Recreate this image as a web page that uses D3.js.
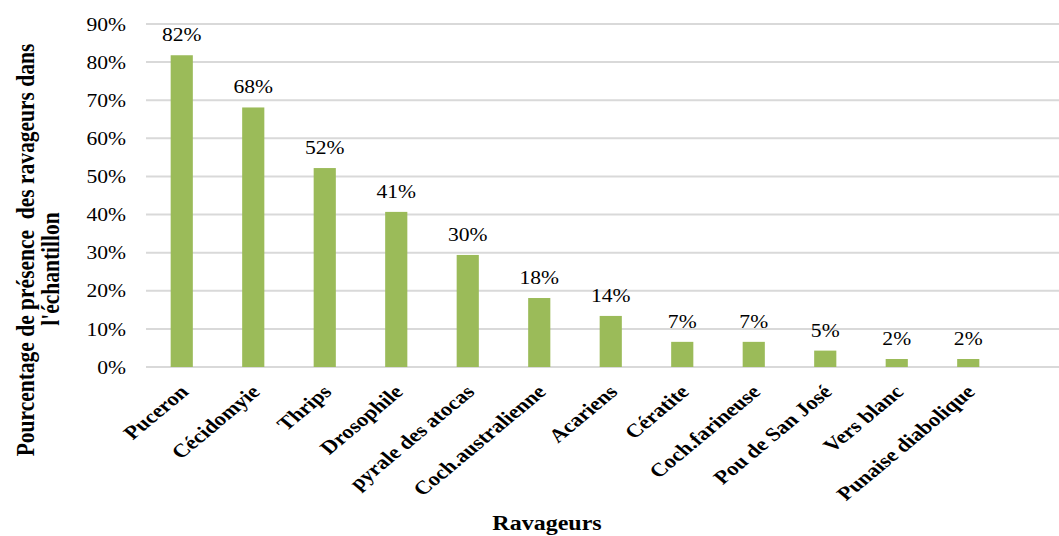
<!DOCTYPE html>
<html><head><meta charset="utf-8">
<script src="https://cdn.jsdelivr.net/npm/d3@7"></script>
<style>body{margin:0;background:#fff}svg{display:block}</style>
</head><body>
<script>
const categories = ["Puceron","Cécidomyie","Thrips","Drosophile","pyrale des atocas","Coch.australienne","Acariens","Cératite","Coch.farineuse","Pou de San José","Vers blanc","Punaise diabolique"];
const values = [0.818,0.681,0.522,0.407,0.294,0.181,0.134,0.066,0.066,0.043,0.021,0.021];
const labels = ["82%","68%","52%","41%","30%","18%","14%","7%","7%","5%","2%","2%"];
const yTicks = [0,0.1,0.2,0.3,0.4,0.5,0.6,0.7,0.8,0.9];

const W=1059,H=536, SX=1.2;
const svg=d3.select("body").append("svg").attr("width",W).attr("height",H);
const font="'Liberation Serif','Times New Roman',serif";
const x=d3.scaleBand().domain(categories).range([146,1004]).paddingInner(0.69).paddingOuter(0.345);
const y=d3.scaleLinear().domain([0,0.9]).range([367,24]);

// grid
svg.append("g").selectAll("line").data(yTicks).join("line")
  .attr("x1",146).attr("x2",W).attr("y1",d=>y(d)).attr("y2",d=>y(d))
  .attr("stroke","#d9d9d9").attr("stroke-width",2);

// y axis labels
const yAxis=d3.axisLeft(y).tickValues(yTicks).tickFormat(d3.format(".0%")).tickSize(0).tickPadding(0);
const ga=svg.append("g").attr("transform","translate(146,0)").call(yAxis);
ga.select(".domain").remove();
ga.selectAll("text").attr("font-family",font).attr("font-size",18).attr("fill","#000")
  .attr("x",0).attr("dy","0.34em").attr("transform",`translate(-20,0) scale(${SX},1)`);

// bars
svg.append("g").selectAll("rect").data(values).join("rect")
  .attr("x",(d,i)=>x(categories[i])).attr("width",x.bandwidth())
  .attr("y",d=>y(d)).attr("height",d=>y(0)-y(d)).attr("fill","#9bbb59");

// value labels
svg.append("g").selectAll("text").data(values).join("text")
  .attr("transform",(d,i)=>`translate(${x(categories[i])+x.bandwidth()/2},${y(d)-14}) scale(${SX},1)`)
  .attr("text-anchor","middle").attr("font-family",font).attr("font-size",18).attr("fill","#000")
  .text((d,i)=>labels[i]);

// x labels
const xAxis=d3.axisBottom(x).tickSize(0).tickPadding(0);
const gx=svg.append("g").attr("transform","translate(0,367)").call(xAxis);
gx.select(".domain").remove();
gx.selectAll("text").attr("font-family",font).attr("font-size",19).attr("font-weight","bold").attr("fill","#000")
  .attr("text-anchor","end").attr("dy",null).attr("y",0)
  .attr("transform",`translate(8,26) scale(${SX},1) rotate(-45)`);

// axis titles
svg.append("text").attr("transform",`translate(547,530) scale(${SX},1)`).attr("text-anchor","middle")
  .attr("font-family",font).attr("font-size",20).attr("font-weight","bold").text("Ravageurs");
svg.append("text").attr("transform",`translate(34,250) scale(${SX},1) rotate(-90)`).attr("text-anchor","middle")
  .attr("font-family",font).attr("font-size",21.5).attr("font-weight","bold")
  .text("Pourcentage de présence  des ravageurs dans").style("white-space","pre");
svg.append("text").attr("transform",`translate(59,269) scale(${SX},1) rotate(-90)`).attr("text-anchor","middle")
  .attr("font-family",font).attr("font-size",21.5).attr("font-weight","bold")
  .text("l'échantillon");
</script>
</body></html>
